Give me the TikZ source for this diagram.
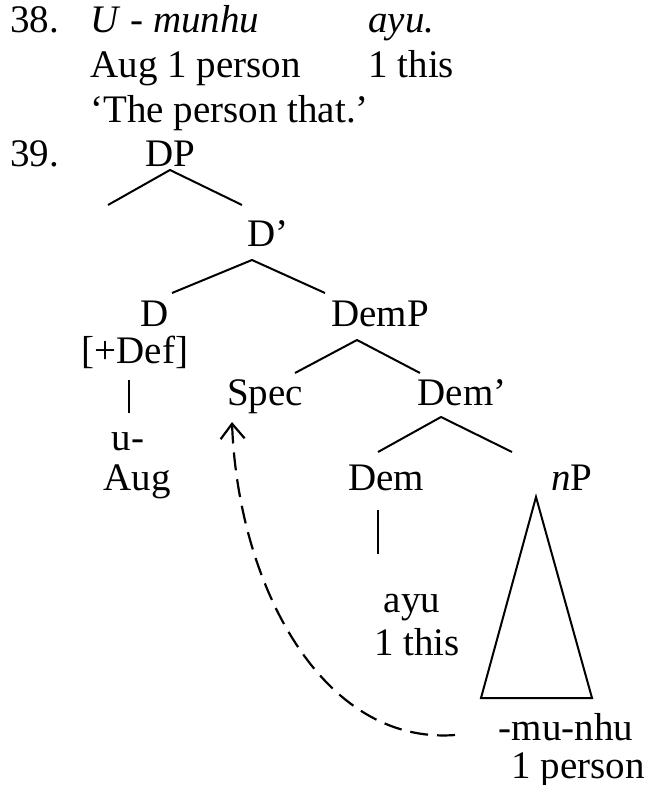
\documentclass[tikz,border=0pt]{standalone}
\usepackage{fontspec}
\setmainfont{Liberation Serif}
\usetikzlibrary{arrows.meta}

\begin{document}
\begin{tikzpicture}[
    x=0.5pt, y=-0.5pt,
    every node/.style={inner sep=0pt, font=\fontsize{19.5}{23}\selectfont},
    lab/.style={anchor=base},
    gl/.style={anchor=base west},
    branch/.style={line width=1pt},
    mv/.style={line width=1.1pt, dash pattern=on 9pt off 4.5pt,
               -{Straight Barb[length=7.5pt,width=12pt,line width=1.1pt]}}
]
    \useasboundingbox (0,0) rectangle (650,785);

    % Example 38: gloss
    \node[gl] (n38) at (10,33) {38.};
    \node[gl] (word1) at (90,33) {\textit{U} - \textit{munhu}};
    \node[gl] (word2) at (368,33) {\textit{ayu.}};
    \node[gl] (gloss1) at (90,78) {Aug 1 person};
    \node[gl] (gloss2) at (368,78) {1 this};
    \node[gl] (trans) at (90,123) {‘The person that.’};

    % Example 39: tree
    \node[gl] (n39) at (10,167) {39.};
    \node[lab] (DP) at (170,167) {DP};
    \node[lab] (Dbar) at (268,247) {D’};
    \node[lab] (D) at (155,327) {D};
    \node[lab] (Def) at (135,364) {[+Def]};
    \node[lab] (uAug) at (128,450) {u-};
    \node[lab] (Aug) at (137,490) {Aug};
    \node[lab] (DemP) at (380,327) {DemP};
    \node[lab] (Spec) at (265,405) {Spec};
    \node[lab] (Dembar) at (462,405) {Dem’};
    \node[lab] (Dem) at (386,490) {Dem};
    \node[lab] (nP) at (572,490) {\textit{n}P};
    \node[lab] (ayu) at (412,612) {ayu};
    \node[lab] (ayuGl) at (417,655) {1 this};
    \node[lab] (munhu) at (566,740) {-mu-nhu};
    \node[lab] (munhuGl) at (578,778) {1 person};

    % branch points
    \coordinate (DP-a) at (170,170);
    \coordinate (DP-l) at (108,205);
    \coordinate (DP-r) at (242,205);
    \coordinate (Dbar-a) at (252,260);
    \coordinate (Dbar-l) at (172,293);
    \coordinate (Dbar-r) at (325,293);
    \coordinate (DemP-a) at (357,340);
    \coordinate (DemP-l) at (295,373);
    \coordinate (DemP-r) at (420,373);
    \coordinate (Dembar-a) at (441,417);
    \coordinate (Dembar-l) at (378,452);
    \coordinate (Dembar-r) at (512,452);
    \coordinate (nP-a) at (536,497);
    \coordinate (nP-l) at (481,698);
    \coordinate (nP-r) at (592,698);
    \coordinate (Def-t) at (129,380);
    \coordinate (Def-b) at (129,413);
    \coordinate (Dem-t) at (378,510);
    \coordinate (Dem-b) at (378,554);

    % branches
    \draw[branch] (DP-l) -- (DP-a) -- (DP-r);
    \draw[branch] (Dbar-l) -- (Dbar-a) -- (Dbar-r);
    \draw[branch] (DemP-l) -- (DemP-a) -- (DemP-r);
    \draw[branch] (Dembar-l) -- (Dembar-a) -- (Dembar-r);
    \draw[branch] (nP-a) -- (nP-l) -- (nP-r) -- cycle;
    \draw[branch] (Def-t) -- (Def-b);
    \draw[branch] (Dem-t) -- (Dem-b);

    % movement
    \coordinate (mv-s) at (455,735);
    \coordinate (mv-t) at (232,422);
    \draw[mv] (mv-s) .. controls (322,745) and (238,585) .. (mv-t);
\end{tikzpicture}
\end{document}
